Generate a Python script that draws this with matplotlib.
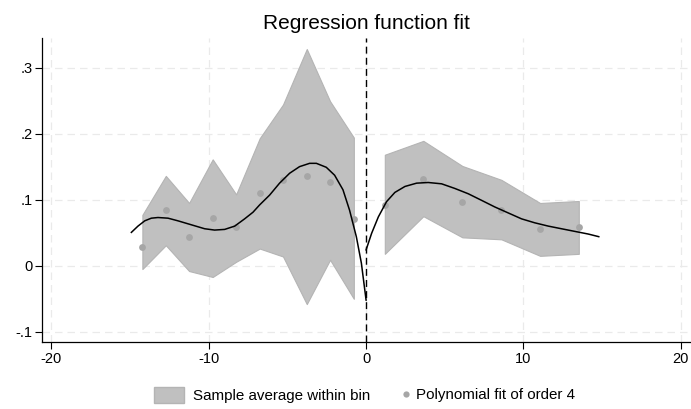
import matplotlib
matplotlib.use("Agg")
import matplotlib.pyplot as plt
from matplotlib.patches import Patch
from matplotlib.lines import Line2D

plt.rcParams['font.family'] = ['Liberation Sans', 'DejaVu Sans']

# Left of cutoff: bin means and band
left_x = [-14.22, -12.73, -11.25, -9.75, -8.26, -6.76, -5.28, -3.77, -2.29, -0.78]
left_mean = [0.029, 0.084, 0.044, 0.072, 0.058, 0.110, 0.130, 0.136, 0.127, 0.071]
left_upper = [0.077, 0.136, 0.095, 0.161, 0.108, 0.193, 0.244, 0.328, 0.249, 0.194]
left_lower = [-0.005, 0.031, -0.008, -0.017, 0.006, 0.026, 0.014, -0.058, 0.009, -0.050]

# Right of cutoff
right_x = [1.19, 3.64, 6.12, 8.60, 11.06, 13.52]
right_mean = [0.092, 0.131, 0.097, 0.084, 0.055, 0.058]
right_upper = [0.168, 0.189, 0.151, 0.130, 0.095, 0.098]
right_lower = [0.018, 0.075, 0.043, 0.040, 0.015, 0.018]

# Polynomial fit curves
fitL_x = [-14.92, -14.50, -14.07, -13.65, -13.23, -12.59, -11.96, -11.11, -10.26,
          -9.63, -8.99, -8.35, -7.72, -7.19, -6.77, -6.13, -5.50, -4.86, -4.23,
          -3.59, -3.16, -2.53, -2.00, -1.47, -1.05, -0.62, -0.30, 0.0]
fitL_y = [0.0505, 0.060, 0.068, 0.072, 0.073, 0.072, 0.068, 0.062, 0.056,
          0.054, 0.055, 0.060, 0.071, 0.081, 0.092, 0.107, 0.125, 0.140, 0.150,
          0.155, 0.155, 0.149, 0.137, 0.115, 0.084, 0.044, 0.004, -0.052]
fitR_x = [0.0, 0.35, 0.78, 1.30, 1.83, 2.47, 3.21, 3.95, 4.80, 5.64, 6.49, 7.34,
          8.18, 9.03, 9.88, 10.72, 11.58, 12.42, 13.27, 14.12, 14.79]
fitR_y = [0.024, 0.049, 0.074, 0.097, 0.111, 0.120, 0.125, 0.126, 0.124, 0.117,
          0.109, 0.099, 0.089, 0.080, 0.071, 0.065, 0.060, 0.056, 0.052, 0.048,
          0.044]

xticks = [-20, -10, 0, 10, 20]
xticklabels = ['-20', '-10', '0', '10', '20']
yticks = [-0.1, 0, 0.1, 0.2, 0.3]
yticklabels = ['-.1', '0', '.1', '.2', '.3']

band_color = '#c0c0c0'
band_edge = '#b4b4b4'
dot_color = '#a6a6a6'

fig = plt.figure(figsize=(6.91, 4.09), dpi=100)
ax = fig.add_axes([0.0608, 0.1638, 0.938, 0.743])

ax.fill_between(left_x, left_lower, left_upper, color=band_color, lw=0.8,
                edgecolor=band_edge, zorder=2)
ax.fill_between(right_x, right_lower, right_upper, color=band_color, lw=0.8,
                edgecolor=band_edge, zorder=2)
ax.scatter(left_x, left_mean, s=24, color=dot_color, zorder=3, linewidths=0)
ax.scatter(right_x, right_mean, s=24, color=dot_color, zorder=3, linewidths=0)
ax.plot(fitL_x, fitL_y, color='black', lw=1.1, zorder=4, solid_joinstyle='round')
ax.plot(fitR_x, fitR_y, color='black', lw=1.1, zorder=4, solid_joinstyle='round')
ax.axvline(0, color='black', lw=1.0, ls=(0, (5, 3)), zorder=5)

ax.set_xlim(-20.6, 20.6)
ax.set_ylim(-0.1154, 0.3445)
ax.set_xticks(xticks)
ax.set_xticklabels(xticklabels)
ax.set_yticks(yticks)
ax.set_yticklabels(yticklabels)
ax.tick_params(axis='both', labelsize=10.5, length=5, width=0.8, color='black',
               pad=2)
ax.grid(True, color='#eaeaea', ls=(0, (6, 4)), lw=0.9, zorder=0)
ax.set_axisbelow(True)
for s in ['top', 'right']:
    ax.spines[s].set_visible(False)
for s in ['left', 'bottom']:
    ax.spines[s].set_linewidth(0.9)

fig.text(0.530, 0.928, 'Regression function fit', ha='center', va='baseline',
         fontsize=15)

leg1 = fig.legend([Patch(facecolor=band_color, edgecolor=band_edge)],
                  ['Sample average within bin'], loc='center left',
                  bbox_to_anchor=(0.2229, 0.034), frameon=False, fontsize=10.9,
                  handlelength=2.0, handleheight=1.3, handletextpad=0.6,
                  borderpad=0, borderaxespad=0)
leg2 = fig.legend([Line2D([], [], marker='o', ls='none', color=dot_color,
                          markersize=4.5, markeredgewidth=0)],
                  ['Polynomial fit of order 4'], loc='center left',
                  bbox_to_anchor=(0.5825, 0.034), frameon=False, fontsize=10.9,
                  handlelength=0.5, handletextpad=0.4,
                  borderpad=0, borderaxespad=0)

fig.savefig('out.png', dpi=100)
